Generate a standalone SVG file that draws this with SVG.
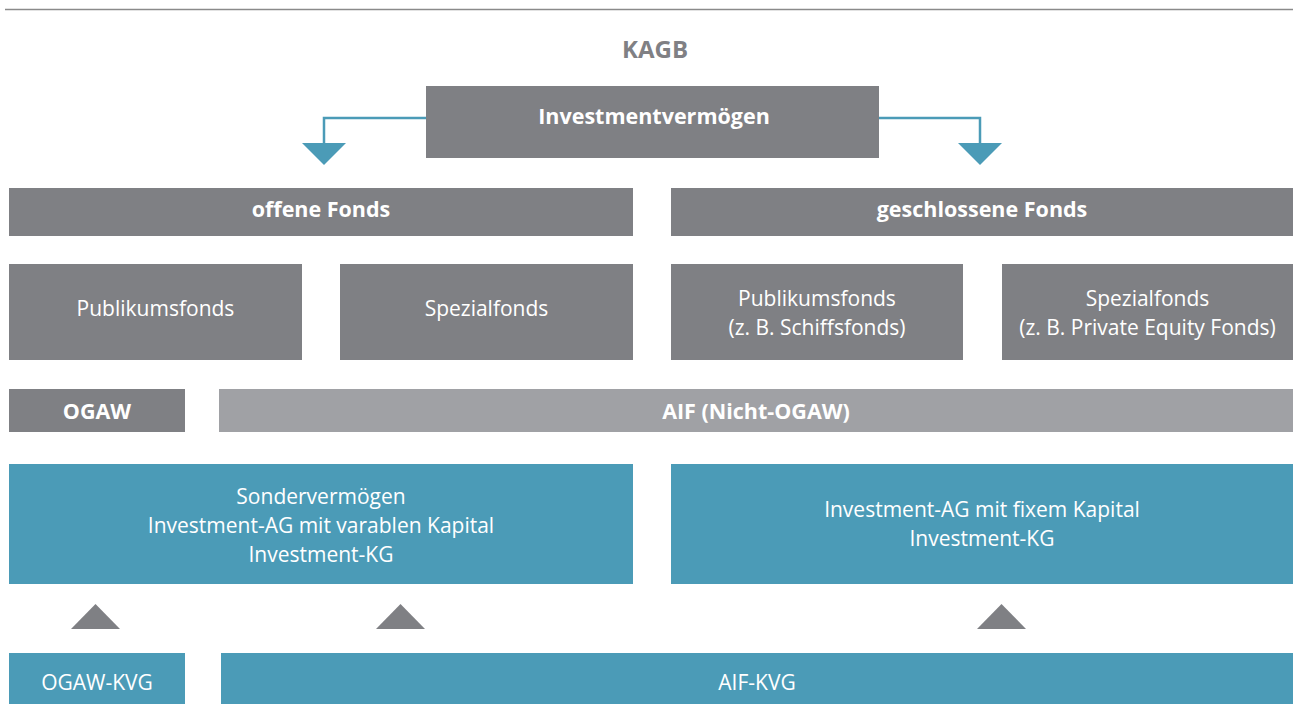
<svg xmlns="http://www.w3.org/2000/svg" width="1293" height="704" viewBox="0 0 1293 704">
<style>
.dk{fill:#7f8084}
.lt{fill:#a0a1a5}
.bl{fill:#4b9bb7}
.t{font-family:"Open Sans","Liberation Sans",sans-serif;font-size:21px;fill:#ffffff;text-anchor:middle}
.b{font-weight:bold;font-size:21.5px}
.tri{fill:#7f8084}
</style>
<rect x="0" y="0" width="1293" height="704" fill="#ffffff"/>
<line x1="5" y1="9.5" x2="1293" y2="9.5" stroke="#8a8a8a" stroke-width="1.5"/>
<g id="kagb"><text class="t b" x="655" y="58" style="fill:#808084;font-size:24px">KAGB</text></g>
<g id="investmentvermoegen"><rect class="dk" x="426" y="86" width="453" height="72"/><text class="t b" x="654" y="124">Investmentvermögen</text></g>
<g id="offene-fonds"><rect class="dk" x="9" y="188" width="624" height="48"/><text class="t b" x="321" y="217">offene Fonds</text></g>
<g id="geschlossene-fonds"><rect class="dk" x="671" y="188" width="622" height="48"/><text class="t b" x="982" y="217">geschlossene Fonds</text></g>
<g id="publikumsfonds-offen"><rect class="dk" x="9" y="264" width="293" height="96"/><text class="t" x="155.5" y="316">Publikumsfonds</text></g>
<g id="spezialfonds-offen"><rect class="dk" x="340" y="264" width="293" height="96"/><text class="t" x="486.5" y="316">Spezialfonds</text></g>
<g id="publikumsfonds-geschlossen"><rect class="dk" x="671" y="264" width="292" height="96"/><text class="t" x="817" y="306">Publikumsfonds</text><text class="t" x="817" y="335">(z. B. Schiffsfonds)</text></g>
<g id="spezialfonds-geschlossen"><rect class="dk" x="1002" y="264" width="291" height="96"/><text class="t" x="1147.5" y="306">Spezialfonds</text><text class="t" x="1147.5" y="335">(z. B. Private Equity Fonds)</text></g>
<g id="ogaw"><rect class="dk" x="9" y="389" width="176" height="43"/><text class="t b" x="97" y="419">OGAW</text></g>
<g id="aif"><rect class="lt" x="219" y="389" width="1074" height="43"/><text class="t b" x="756" y="419">AIF (Nicht-OGAW)</text></g>
<g id="rechtsformen-ogaw"><rect class="bl" x="9" y="464" width="624" height="120"/><text class="t" x="321" y="504">Sondervermögen</text><text class="t" x="321" y="533">Investment-AG mit varablen Kapital</text><text class="t" x="321" y="562">Investment-KG</text></g>
<g id="rechtsformen-aif"><rect class="bl" x="671" y="464" width="622" height="120"/><text class="t" x="982" y="517">Investment-AG mit fixem Kapital</text><text class="t" x="982" y="546">Investment-KG</text></g>
<g id="ogaw-kvg"><rect class="bl" x="9" y="653" width="176" height="51"/><text class="t" x="97" y="690">OGAW-KVG</text></g>
<g id="aif-kvg"><rect class="bl" x="221" y="653" width="1072" height="51"/><text class="t" x="757" y="690">AIF-KVG</text></g>
<g id="connectors">
<polyline points="426,118 324,118 324,144" fill="none" stroke="#4b9bb7" stroke-width="2.5"/>
<polygon points="302,143 346,143 324,165" fill="#4b9bb7"/>
<polyline points="879,118 980,118 980,144" fill="none" stroke="#4b9bb7" stroke-width="2.5"/>
<polygon points="958,143 1002,143 980,165" fill="#4b9bb7"/>
<polygon class="tri" points="71,629 120,629 95.5,604"/>
<polygon class="tri" points="376,629 425,629 400.5,604"/>
<polygon class="tri" points="977,629 1026,629 1001.5,604"/>
</g>
</svg>
